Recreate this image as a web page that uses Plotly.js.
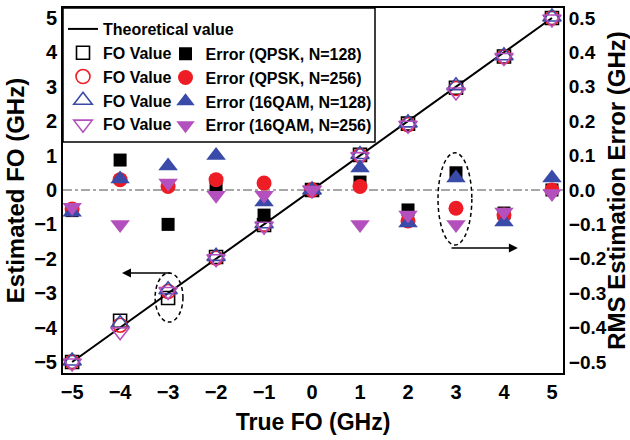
<!DOCTYPE html>
<html>
<head>
<meta charset="utf-8">
<script src="https://cdn.plot.ly/plotly-3.0.1.min.js"></script>
<style>html,body{margin:0;padding:0;background:#fff;}#chart{width:630px;height:440px;}</style>
</head>
<body>
<div id="chart"></div>
<script>
// ---- data ----
var trueFO = [-5, -4, -3, -2, -1, 0, 1, 2, 3, 4, 5];
var theoX = [-5, 5];
var theoY = [-5, 5];

var foQpsk128  = [-5.0, -3.8, -3.14, -1.95, -1.02, 0, 1.02, 1.93, 2.97, 3.88, 5.0];
var foQpsk256  = [-5.0, -3.93, -2.95, -1.98, -1.0, 0, 1.0, 1.9, 2.95, 3.87, 5.0];
var fo16qam128 = [-4.97, -3.88, -2.9, -1.93, -0.98, 0, 1.03, 1.95, 3.03, 3.9, 5.03];
var fo16qam256 = [-5.03, -4.12, -2.95, -2.0, -1.05, 0, 0.97, 1.88, 2.85, 3.85, 4.97];

var errQpsk128  = [-0.06, 0.087, -0.10, 0.01, -0.073, 0, 0.023, -0.058, 0.05, -0.067, 0.0];
var errQpsk256  = [-0.055, 0.03, 0.01, 0.03, 0.02, 0, 0.01, -0.09, -0.053, -0.073, 0.0];
var err16qam128 = [-0.065, 0.032, 0.07, 0.1, -0.035, 0, 0.064, -0.096, 0.035, -0.093, 0.035];
var err16qam256 = [-0.05, -0.10, 0.02, -0.015, -0.015, 0, -0.10, -0.073, -0.10, -0.064, -0.01];

var seriesNames = ['Error (QPSK, N=128)', 'Error (QPSK, N=256)', 'Error (16QAM, N=128)', 'Error (16QAM, N=256)'];
var xTickVals = [-5, -4, -3, -2, -1, 0, 1, 2, 3, 4, 5];

// ---- style ----
var FONT = 'Liberation Sans, Arial, sans-serif';
var cBlack = '#000000', cRed = '#ee1c25', cBlue = '#3a4aa8', cPurple = '#b450bd';

function foTrace(y, sym, col, size) {
  return {x: trueFO, y: y, type: 'scatter', mode: 'markers', name: 'FO Value',
    marker: {symbol: sym, size: size, color: col, line: {color: col, width: 1.6}},
    xaxis: 'x', yaxis: 'y', legend: 'legend'};
}
function errTrace(y, sym, col, size, name) {
  return {x: trueFO, y: y, type: 'scatter', mode: 'markers', name: name,
    marker: {symbol: sym, size: size, color: col, line: {width: 0}},
    xaxis: 'x', yaxis: 'y2', legend: 'legend2'};
}

var traces = [
  {x: theoX, y: theoY, type: 'scatter', mode: 'lines', name: 'Theoretical value',
   line: {color: '#000', width: 2}, legend: 'legend'},
  foTrace(foQpsk128, 'square-open', cBlack, 13),
  foTrace(foQpsk256, 'circle-open', cRed, 14),
  foTrace(fo16qam128, 'triangle-up-open', cBlue, 16),
  foTrace(fo16qam256, 'triangle-down-open', cPurple, 16),
  errTrace(errQpsk128, 'square', cBlack, 13, seriesNames[0]),
  errTrace(errQpsk256, 'circle', cRed, 15, seriesNames[1]),
  errTrace(err16qam128, 'triangle-up', cBlue, 17, seriesNames[2]),
  errTrace(err16qam256, 'triangle-down', cPurple, 17, seriesNames[3])
];

var tickFont = {family: FONT, size: 20, color: '#000', weight: 'bold'};
var tickFont2 = {family: FONT, size: 19, color: '#000', weight: 'bold'};
var legFont = {family: FONT, size: 16, color: '#000', weight: 'bold'};
function tFont(s) { return {family: FONT, size: s, color: '#000', weight: 'bold'}; }

var layout = {
  width: 630, height: 440,
  margin: {l: 63, r: 67, t: 8, b: 67},
  paper_bgcolor: '#fff', plot_bgcolor: '#fff',
  showlegend: true,
  xaxis: {range: [-5.19, 5.23], tickvals: xTickVals, showgrid: false, zeroline: false,
    showline: true, linecolor: '#000', linewidth: 2, mirror: true, ticks: '',
    tickfont: tickFont, title: {text: 'True FO (GHz)', font: tFont(23), standoff: 12}},
  yaxis: {range: [-5.32, 5.29], dtick: 1, showgrid: false, zeroline: false,
    showline: true, linecolor: '#000', linewidth: 2, ticks: '',
    tickfont: tickFont, title: {text: 'Estimated FO (GHz)', font: tFont(24), standoff: 3}},
  yaxis2: {overlaying: 'y', side: 'right', range: [-0.532, 0.529], dtick: 0.1, tickformat: '.1f',
    showgrid: false, zeroline: false, showline: true, linecolor: '#000', linewidth: 2, ticks: '',
    tickfont: tickFont2, title: {text: 'RMS Estimation Error (GHz)', font: tFont(24), standoff: 6}},
  legend: {x: 0, y: 0.989, xanchor: 'left', yanchor: 'top', bgcolor: 'rgba(0,0,0,0)', borderwidth: 0,
    font: legFont, tracegroupgap: 0, traceorder: 'normal'},
  legend2: {x: 0.205, y: 0.921, xanchor: 'left', yanchor: 'top', bgcolor: 'rgba(0,0,0,0)', borderwidth: 0,
    font: legFont, tracegroupgap: 0, traceorder: 'normal'},
  shapes: [
    {type: 'line', xref: 'paper', yref: 'y', x0: 0, x1: 1, y0: 0, y1: 0, layer: 'below',
     line: {color: '#8a8a8a', width: 1.5, dash: 'dashdot'}},
    {type: 'rect', xref: 'paper', yref: 'paper', x0: 0, x1: 0.624, y0: 0.633, y1: 1, layer: 'above',
     fillcolor: '#fff', line: {color: '#000', width: 1.5}},
    {type: 'circle', xref: 'x', yref: 'y', x0: -3.27, x1: -2.69, y0: -3.84, y1: -2.41,
     line: {color: '#000', width: 1.5, dash: '4px,3px'}},
    {type: 'circle', xref: 'x', yref: 'y', x0: 2.625, x1: 3.33, y0: -1.6, y1: 1.08,
     line: {color: '#000', width: 1.5, dash: '4px,3px'}}
  ],
  annotations: [
    {xref: 'x', yref: 'y', axref: 'x', ayref: 'y', x: -3.96, y: -2.41, ax: -2.92, ay: -2.41,
     text: '', showarrow: true, arrowhead: 2, arrowsize: 1.2, arrowwidth: 1.5, arrowcolor: '#000'},
    {xref: 'x', yref: 'y', axref: 'x', ayref: 'y', x: 4.29, y: -1.69, ax: 2.875, ay: -1.69,
     text: '', showarrow: true, arrowhead: 2, arrowsize: 1.2, arrowwidth: 1.5, arrowcolor: '#000'}
  ]
};

Plotly.newPlot('chart', traces, layout, {displayModeBar: false, staticPlot: true});
</script>
</body>
</html>
